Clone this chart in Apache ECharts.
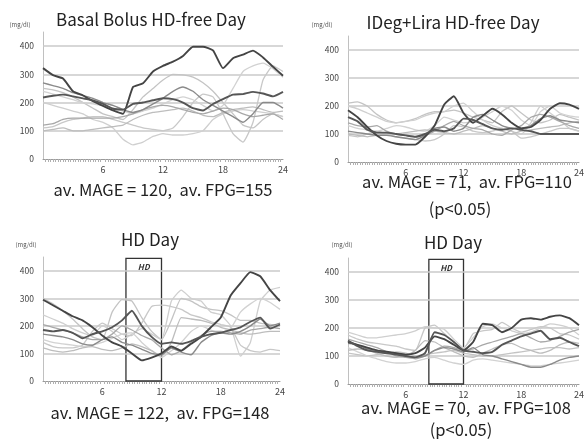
<!DOCTYPE html>
<html>
<head>
<meta charset="utf-8">
<script src="https://cdn.jsdelivr.net/npm/echarts@6/dist/echarts.min.js"></script>
<style>html,body{margin:0;padding:0;background:#fff}#c{width:587px;height:439px}</style>
</head>
<body>
<div id="c"></div>
<script>
// ---- data ----
const hours = [0,1,2,3,4,5,6,7,8,9,10,11,12,13,14,15,16,17,18,19,20,21,22,23,24];
const yTicks = [100,200,300,400];
const hdStart = 8.4, hdEnd = 12, hdTop = 445;

const titles = ["Basal Bolus HD-free Day","IDeg+Lira HD-free Day","HD Day","HD Day"];
const captions = ["av. MAGE = 120,  av. FPG=155","av. MAGE = 71,  av. FPG=110","av. MAGE = 122,  av. FPG=148","av. MAGE = 70,  av. FPG=108"];
const pNotes = ["","(p<0.05)","","(p<0.05)"];

// Panel 1: Basal Bolus HD-free Day
const p1_a = [322,297,285,240,225,205,188,172,160,255,268,310,330,345,365,398,398,385,322,357,370,384,360,327,295];
const p1_b = [218,224,228,222,215,208,195,178,175,195,200,208,215,212,200,180,172,195,212,228,230,238,232,222,238];
const p1_c = [270,260,250,235,225,215,200,190,175,165,175,195,215,240,255,240,210,190,170,150,130,160,200,200,180];
const p1_d = [250,245,235,220,200,180,160,150,140,175,220,250,280,300,298,290,270,240,200,160,120,110,140,160,150];
const p1_e = [200,190,180,170,160,140,130,110,70,50,60,80,90,85,85,90,100,140,160,170,175,170,165,160,150];
const p1_f = [110,115,130,140,145,150,150,140,130,120,110,105,100,110,150,200,230,220,160,90,60,130,280,330,310];
const p1_g = [240,230,220,210,200,195,190,180,170,160,170,180,195,210,220,210,190,170,190,250,310,330,340,320,290];
const p1_h = [100,105,110,100,100,105,110,115,120,140,155,165,170,175,180,170,155,150,165,175,180,185,175,165,170];
const p1_i = [120,125,140,145,145,145,145,145,150,160,175,185,190,185,175,165,160,170,180,175,160,150,155,160,140];

// Panel 2: IDeg+Lira HD-free Day
const p2_a = [185,160,125,95,75,65,62,62,90,130,205,235,175,140,165,190,170,140,120,125,150,190,210,205,190];
const p2_b = [160,145,115,105,105,100,95,90,100,115,110,120,155,150,135,120,115,120,115,110,100,100,100,100,100];
const p2_c = [110,105,100,95,95,90,85,80,95,120,125,110,120,160,170,150,130,120,120,130,155,165,150,145,140];
const p2_d = [210,215,200,170,150,140,145,155,170,180,180,185,175,160,150,140,180,200,175,150,140,150,170,160,150];
const p2_e = [200,190,175,160,145,140,145,150,165,175,180,200,210,180,150,130,120,110,100,140,200,175,150,120,110];
const p2_f = [95,90,100,110,100,90,85,80,75,80,100,130,125,110,105,110,120,110,85,90,100,110,120,120,110];
const p2_g = [130,120,115,110,120,130,125,115,110,130,160,150,140,145,160,180,200,185,150,130,180,200,175,165,160];
const p2_h = [100,95,90,95,100,100,105,110,115,110,105,100,110,120,130,120,110,100,110,115,120,125,130,140,145];
const p2_i = [140,130,125,130,110,100,95,90,95,110,130,145,130,120,115,100,95,115,130,160,170,160,145,130,120];

// Panel 3: HD Day (Basal Bolus)
const p3_a = [295,275,255,235,220,195,165,140,125,100,75,85,100,125,110,135,160,195,230,310,355,395,380,330,290];
const p3_b = [185,180,185,175,155,170,180,195,220,255,200,160,135,140,135,145,160,170,175,185,195,215,230,190,205];
const p3_c = [170,165,160,150,135,130,150,160,140,130,115,100,95,120,105,95,140,165,175,170,180,200,225,200,210];
const p3_d = [300,280,255,225,190,160,150,250,295,290,230,180,150,220,300,290,270,260,255,240,220,220,210,205,200];
const p3_e = [240,225,210,190,175,165,200,180,150,170,190,170,150,290,330,300,290,250,240,200,90,140,290,330,340];
const p3_f = [140,125,120,120,130,180,210,190,170,165,210,270,275,270,260,240,230,215,205,195,130,110,105,115,110];
const p3_g = [150,140,135,130,125,130,140,155,170,175,140,110,85,110,140,180,200,185,175,190,250,280,300,285,260];
const p3_h = [120,110,105,110,120,125,115,110,120,135,125,110,90,140,230,225,220,210,195,185,175,170,175,180,180];
const p3_i = [205,195,185,175,160,150,150,170,200,185,165,150,120,95,110,140,165,180,180,175,170,185,190,195,190];

// Panel 4: HD Day (IDeg+Lira)
const p4_a = [150,140,130,120,115,110,105,110,130,170,160,140,120,150,215,210,185,200,230,235,230,240,245,235,210];
const p4_b = [155,135,120,115,110,105,100,95,110,185,175,150,120,115,110,115,140,155,170,180,190,160,165,150,135];
const p4_c = [145,140,125,120,115,110,100,95,100,120,130,125,115,130,105,100,90,80,70,60,60,70,85,95,100];
const p4_d = [110,105,100,105,110,115,110,100,105,110,115,120,110,105,100,100,105,110,115,120,125,130,130,125,130];
const p4_e = [185,175,165,165,170,175,180,190,205,200,195,160,130,165,205,215,200,190,180,185,200,215,210,200,175];
const p4_f = [175,160,150,145,140,135,125,120,200,210,180,150,125,180,190,195,220,200,185,195,205,200,180,175,160];
const p4_g = [130,115,100,90,80,75,75,80,90,95,85,75,70,85,90,85,80,75,70,65,65,70,75,80,85];
const p4_h = [120,125,120,110,100,95,100,120,155,150,130,115,100,95,110,125,140,145,130,120,110,120,140,150,145];
const p4_i = [160,150,140,130,115,100,95,90,100,120,135,130,120,125,140,150,160,170,180,165,150,155,170,185,195];

const panelData = [
  [p1_a,p1_b,p1_c,p1_d,p1_e,p1_f,p1_g,p1_h,p1_i],
  [p2_a,p2_b,p2_c,p2_d,p2_e,p2_f,p2_g,p2_h,p2_i],
  [p3_a,p3_b,p3_c,p3_d,p3_e,p3_f,p3_g,p3_h,p3_i],
  [p4_a,p4_b,p4_c,p4_d,p4_e,p4_f,p4_g,p4_h,p4_i]
];
const hasHD = [false,false,true,true];

// ---- styles / layout ----
const lineStyles = [
  {c:'#444444', w:1.9},{c:'#555555', w:1.9},{c:'#8a8a8a', w:1.4},
  {c:'#c4c4c4', w:1.3},{c:'#cfcfcf', w:1.3},{c:'#c8c8c8', w:1.3},
  {c:'#d2d2d2', w:1.3},{c:'#bdbdbd', w:1.3},{c:'#a8a8a8', w:1.3}
];
const grids = [
  {left:43, top:32, width:240, height:127},
  {left:348, top:36, width:234, height:126},
  {left:43, top:257, width:237, height:124},
  {left:348, top:258, width:234, height:126}
];
const titlePos = [[151,20],[453,23],[150,240],[453,243]];
const capPos = [[163,190],[467,182],[160,413],[466,408]];
const notePos = [[0,0],[460,209],[0,0],[461,430]];
const unitPos = [[20,25],[322,25],[26,245],[342,245]];
const FONT = '"Noto Sans CJK JP","Noto Sans",sans-serif';

const option = {
  animation:false,
  backgroundColor:'#fff',
  grid: grids.map(g=>Object.assign({containLabel:false}, g)),
  xAxis: grids.map((g,i)=>({
    type:'value', gridIndex:i, min:0, max:24, interval:6,
    axisLine:{show:true, lineStyle:{color:'#9a9a9a', width:1}},
    axisTick:{show:false},
    minorTick:{show:true, splitNumber:24, length:3, lineStyle:{color:'#b0b0b0'}},
    splitLine:{show:false},
    axisLabel:{fontSize:9, color:'#444', fontFamily:FONT, margin:6,
      formatter:v=> v===0 ? '' : String(v)}
  })),
  yAxis: grids.map((g,i)=>({
    type:'value', gridIndex:i, min:0, max:450, interval:100,
    axisLine:{show:true, lineStyle:{color:'#c0c0c0', width:1}},
    axisTick:{show:false},
    splitLine:{show:false},
    axisLabel:{fontSize:8.5, color:'#444', fontFamily:FONT, margin:9,
      formatter:v=> (v%100===0) ? String(v) : ''}
  })),
  series: [],
  graphic: []
};

panelData.forEach((lines, p)=>{
  lines.forEach((vals, k)=>{
    const st = lineStyles[k];
    const s = {
      type:'line', xAxisIndex:p, yAxisIndex:p,
      data: hours.map((h,j)=>[h, vals[j]]),
      showSymbol:false, symbol:'none', smooth:0.15,
      lineStyle:{color:st.c, width:st.w},
      z: 10 - (k<3 ? 0 : 1) + (k<2 ? 2 : 0)
    };
    if (k===0) {
      s.markLine = {
        silent:true, symbol:'none', label:{show:false},
        lineStyle:{color:'#cacaca', width:1.6, type:'solid'},
        data: yTicks.map(v=>({yAxis:v})), z:1
      };
      if (hasHD[p]) {
        s.markArea = {
          silent:true,
          itemStyle:{color:'rgba(0,0,0,0)', borderColor:'#333', borderWidth:1.3},
          label:{show:true, position:'insideTop', formatter:'HD', fontStyle:'italic',
                 fontWeight:'bold', fontSize:8, color:'#333', distance:5, fontFamily:FONT},
          data:[[{xAxis:hdStart, yAxis:0},{xAxis:hdEnd, yAxis:hdTop}]]
        };
      }
    }
    option.series.push(s);
  });
  option.graphic.push({type:'text', x:titlePos[p][0], y:titlePos[p][1],
    style:{text:titles[p], fill:'#222', font:'17px '+FONT, textAlign:'center', textVerticalAlign:'middle'}});
  option.graphic.push({type:'text', x:capPos[p][0], y:capPos[p][1],
    style:{text:captions[p], fill:'#222', font:'16.5px '+FONT, textAlign:'center', textVerticalAlign:'middle'}});
  if (pNotes[p]) option.graphic.push({type:'text', x:notePos[p][0], y:notePos[p][1],
    style:{text:pNotes[p], fill:'#222', font:'16.5px '+FONT, textAlign:'center', textVerticalAlign:'middle'}});
  option.graphic.push({type:'text', x:unitPos[p][0], y:unitPos[p][1],
    style:{text:'(mg/dl)', fill:'#555', font:'6px '+FONT, textAlign:'center', textVerticalAlign:'middle'}});
});

const chart = echarts.init(document.getElementById('c'), null, {renderer:'canvas'});
chart.setOption(option);
</script>
</body>
</html>
